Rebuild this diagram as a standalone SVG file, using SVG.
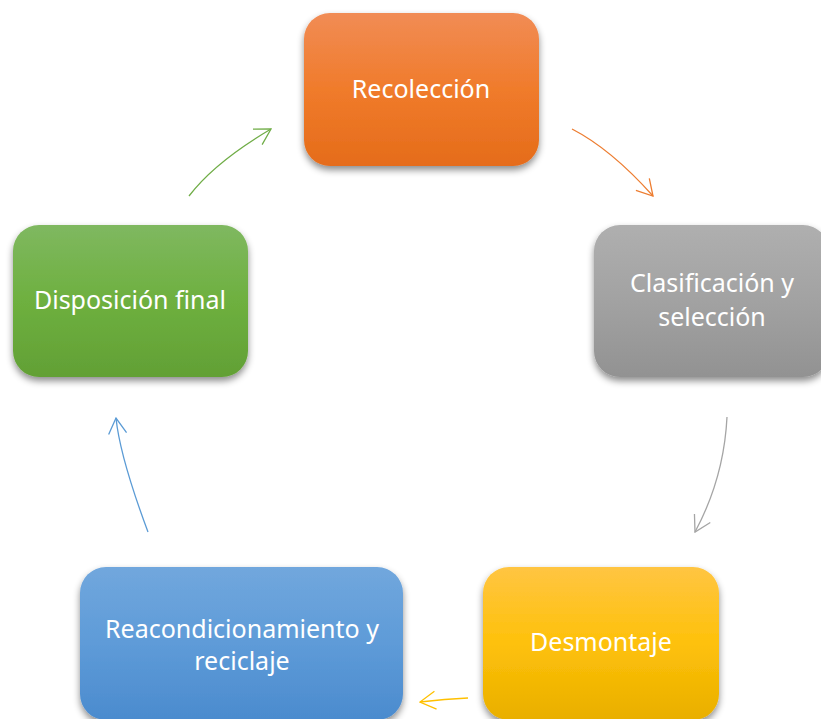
<svg xmlns="http://www.w3.org/2000/svg" width="821" height="719" viewBox="0 0 821 719">
<defs>
<style>
.box{filter:url(#sh)}
.lbl{font-family:"Noto Sans","Liberation Sans",Arial,sans-serif;font-size:25px;fill:#ffffff;text-anchor:middle}
.con{fill:none;stroke-width:1.3}
</style>
<filter id="sh" x="-10%" y="-10%" width="120%" height="130%">
<feDropShadow dx="0" dy="4" stdDeviation="3.5" flood-color="#000" flood-opacity="0.45"/>
</filter>
<linearGradient id="gO" x1="0" y1="0" x2="0" y2="1"><stop offset="0" stop-color="#F18C55"/><stop offset="0.5" stop-color="#F07B2B"/><stop offset="1" stop-color="#E56C1A"/></linearGradient>
<linearGradient id="gG" x1="0" y1="0" x2="0" y2="1"><stop offset="0" stop-color="#AFAFAF"/><stop offset="0.5" stop-color="#A2A2A2"/><stop offset="1" stop-color="#929292"/></linearGradient>
<linearGradient id="gY" x1="0" y1="0" x2="0" y2="1"><stop offset="0" stop-color="#FFC542"/><stop offset="0.5" stop-color="#FEC10A"/><stop offset="1" stop-color="#E9AF00"/></linearGradient>
<linearGradient id="gB" x1="0" y1="0" x2="0" y2="1"><stop offset="0" stop-color="#71A7DD"/><stop offset="0.5" stop-color="#5E9BD8"/><stop offset="1" stop-color="#4B8BCE"/></linearGradient>
<linearGradient id="gN" x1="0" y1="0" x2="0" y2="1"><stop offset="0" stop-color="#7FB860"/><stop offset="0.5" stop-color="#6EB03F"/><stop offset="1" stop-color="#62A035"/></linearGradient>
<marker id="mO" viewBox="-17 -10 18 20" refX="0" refY="0" markerWidth="18" markerHeight="20" markerUnits="userSpaceOnUse" orient="auto"><path d="M-15.6,-9 L0,0 L-15.6,9" fill="none" stroke="#ED7D31" stroke-width="1.3"/></marker>
<marker id="mG" viewBox="-17 -10 18 20" refX="0" refY="0" markerWidth="18" markerHeight="20" markerUnits="userSpaceOnUse" orient="auto"><path d="M-15.6,-9 L0,0 L-15.6,9" fill="none" stroke="#A5A5A5" stroke-width="1.3"/></marker>
<marker id="mY" viewBox="-17 -10 18 20" refX="0" refY="0" markerWidth="18" markerHeight="20" markerUnits="userSpaceOnUse" orient="auto"><path d="M-15.6,-9 L0,0 L-15.6,9" fill="none" stroke="#FFC000" stroke-width="1.3"/></marker>
<marker id="mB" viewBox="-17 -10 18 20" refX="0" refY="0" markerWidth="18" markerHeight="20" markerUnits="userSpaceOnUse" orient="auto"><path d="M-15.6,-9 L0,0 L-15.6,9" fill="none" stroke="#5B9BD5" stroke-width="1.3"/></marker>
<marker id="mN" viewBox="-17 -10 18 20" refX="0" refY="0" markerWidth="18" markerHeight="20" markerUnits="userSpaceOnUse" orient="auto"><path d="M-15.6,-9 L0,0 L-15.6,9" fill="none" stroke="#70AD47" stroke-width="1.3"/></marker>
</defs>
<rect width="821" height="719" fill="#ffffff"/>
<g id="connectors">
<path class="con" d="M572,129 Q611,149 653,196" stroke="#ED7D31" marker-end="url(#mO)"/>
<path class="con" d="M727,417 Q724,478 695,532" stroke="#A5A5A5" marker-end="url(#mG)"/>
<path class="con" d="M468,698 Q445,699 420,702" stroke="#FFC000" marker-end="url(#mY)"/>
<path class="con" d="M148,532 Q120,457 116,418" stroke="#5B9BD5" marker-end="url(#mB)"/>
<path class="con" d="M189,196 Q215,162 271,129" stroke="#70AD47" marker-end="url(#mN)"/>
</g>
<g id="recoleccion">
<rect class="box" x="304" y="13" width="235" height="153" rx="26" fill="url(#gO)"/>
<text class="lbl" x="421" y="98">Recolección</text>
</g>
<g id="clasificacion">
<rect class="box" x="594" y="225" width="235" height="152" rx="26" fill="url(#gG)"/>
<text class="lbl" x="712" y="292">Clasificación y</text>
<text class="lbl" x="712" y="326">selección</text>
</g>
<g id="desmontaje">
<rect class="box" x="483" y="567" width="236" height="153" rx="26" fill="url(#gY)"/>
<text class="lbl" x="601" y="651">Desmontaje</text>
</g>
<g id="reacondicionamiento">
<rect class="box" x="80" y="567" width="323" height="153" rx="26" fill="url(#gB)"/>
<text class="lbl" x="242" y="638">Reacondicionamiento y</text>
<text class="lbl" x="242" y="670">reciclaje</text>
</g>
<g id="disposicion">
<rect class="box" x="13" y="225" width="235" height="152" rx="26" fill="url(#gN)"/>
<text class="lbl" x="130" y="309">Disposición final</text>
</g>
</svg>
